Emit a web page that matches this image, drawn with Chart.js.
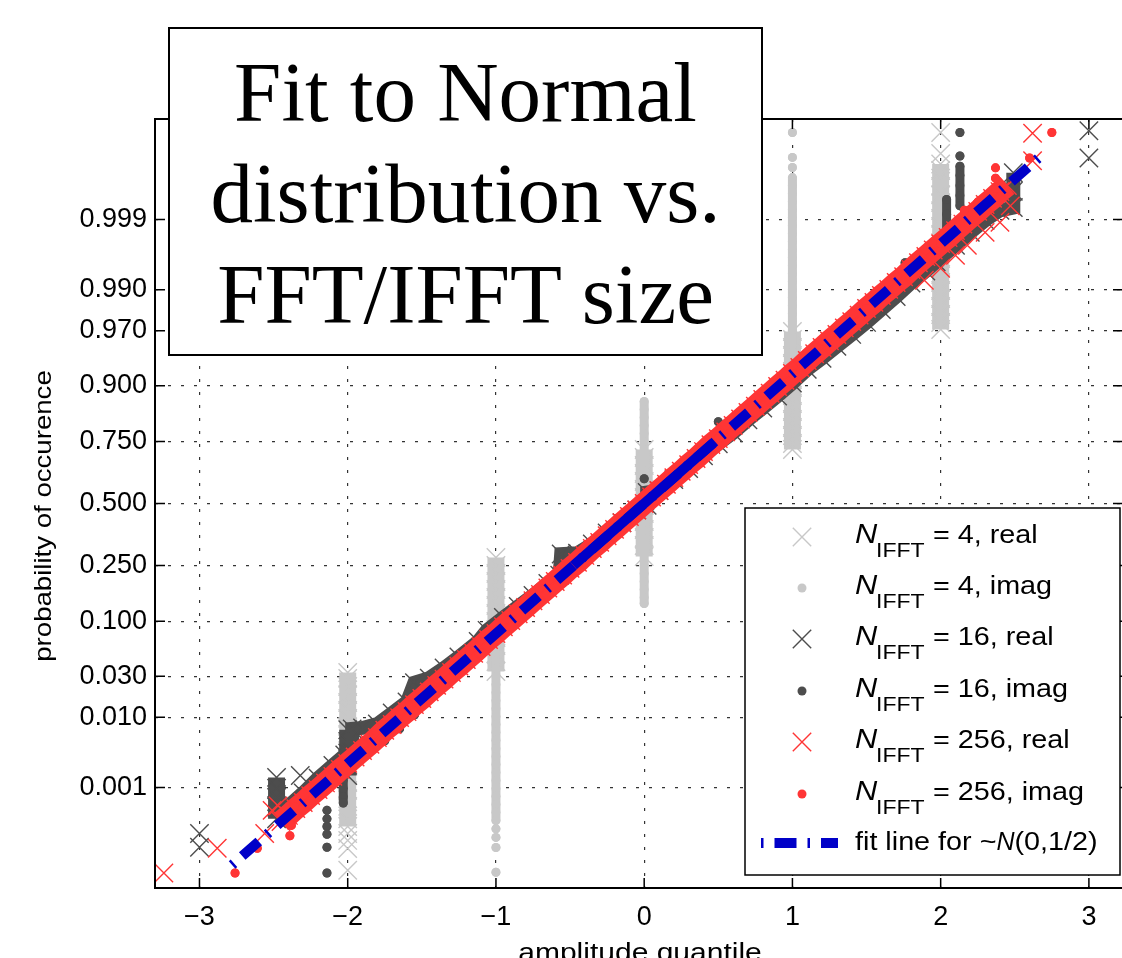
<!DOCTYPE html>
<html lang="en">
<head>
    <meta charset="UTF-8">
    <title>Fit to Normal distribution vs. FFT/IFFT size</title>
    <script src="https://cdn.jsdelivr.net/npm/chart.js"></script>
    <style>
        html, body { margin: 0; padding: 0; background: #fff; overflow: hidden; }
        #wrap { position: relative; width: 1122px; height: 958px; overflow: hidden; }
        #plot { position: absolute; left: 0; top: 0; }
        #title-box {
            position: absolute; left: 168px; top: 27px; width: 595px; height: 329px;
            box-sizing: border-box; border: 2px solid #000; background: #fff;
            font-family: "Liberation Serif", "Times New Roman", serif;
            font-size: 85px; line-height: 101px; text-align: center; padding-top: 13px; color: #000;
        }
    </style>
</head>
<body>
    <div id="wrap">
        <canvas id="plot" width="1140" height="958"></canvas>
        <div id="title-box">Fit to Normal<br>distribution vs.<br>FFT/IFFT size</div>
    </div>

    <script>
        // axis ticks
        const xTicks = [-3, -2, -1, 0, 1, 2, 3];
        const yTickP = [0.001, 0.010, 0.030, 0.100, 0.250, 0.500, 0.750, 0.900, 0.970, 0.990, 0.999];

        // N_IFFT = 4, real : [amplitude, [probabilities]] per connected column
        const n4RealCols = [
            [-2, [0.033, 0.0285, 0.0232, 0.0188, 0.0152, 0.0122, 0.0097, 0.0076, 0.006, 0.0046, 0.0036, 0.00276, 0.0021, 0.0016, 0.0012, 0.0009, 0.00066, 0.00049, 0.0003, 0.00022]],
            [-2, [0.000165]], [-2, [0.000123]], [-2, [0.000087]], [-2, [0.000033]],
            [-1, [0.2783, 0.2499, 0.2231, 0.198, 0.1747, 0.1532, 0.1335, 0.1156, 0.0996, 0.0852, 0.0724, 0.0612, 0.0513, 0.0428, 0.0338]],
            [0, [0.7217, 0.6918, 0.6602, 0.6278, 0.5945, 0.5605, 0.5261, 0.4913, 0.4566, 0.4223, 0.3886, 0.3557, 0.3238, 0.2821]],
            [1, [0.9694, 0.9629, 0.9552, 0.9463, 0.9361, 0.9245, 0.9114, 0.8966, 0.88, 0.8617, 0.8416, 0.8196, 0.7959, 0.7704, 0.7431, 0.7217]],
            [2, [0.999973]], [2, [0.99993]],
            [2, [0.99989, 0.999855, 0.9998, 0.99972, 0.99961, 0.99947, 0.99928, 0.99904, 0.99871, 0.99829, 0.99774, 0.99705, 0.99616, 0.99505, 0.99365, 0.99191, 0.98978, 0.98716, 0.98398, 0.98016, 0.97558, 0.97082]]
        ];

        // N_IFFT = 4, imag
        const n4ImagCols = [
            [-1, [0.1178, 0.1015, 0.0869, 0.0739, 0.0625, 0.0525, 0.0438, 0.0363, 0.0299, 0.0244, 0.0198, 0.016, 0.0128, 0.0102, 0.0081, 0.0064, 0.005, 0.0038, 0.00295, 0.00226, 0.00171, 0.00129, 0.00096, 0.00072, 0.00053, 0.00039, 0.00028]],
            [-1, [0.0002]], [-1, [0.00014]], [-1, [0.000091]], [-1, [0.00003]],
            [0, [0.8665, 0.8468, 0.8253, 0.802, 0.7769, 0.7501, 0.64, 0.513, 0.3844, 0.2499, 0.2231, 0.198, 0.1747, 0.1532, 0.1383]],
            [1, [0.999973]], [1, [0.999917]], [1, [0.999872]],
            [1, [0.999805, 0.99973, 0.99963, 0.99949, 0.99931, 0.99907, 0.99876, 0.99835, 0.99782, 0.99715, 0.99628, 0.9952, 0.99384, 0.99215, 0.99007, 0.98752, 0.98439, 0.98063, 0.97614, 0.9701, 0.9572, 0.9402, 0.9182, 0.8906]]
        ];

        // N_IFFT = 16, real : sorted band [amplitude, probability] plus columns and strays
        const n16RealBand = [
            [-2.40, 0.0005], [-2.30, 0.00082], [-2.20, 0.0014], [-2.10, 0.00219], [-2.02, 0.0031],
            [-1.97, 0.0035], [-1.97, 0.0071], [-1.90, 0.0073], [-1.80, 0.0082], [-1.70, 0.0113],
            [-1.60, 0.0154], [-1.55, 0.0256], [-1.45, 0.0287], [-1.35, 0.0367], [-1.25, 0.0475],
            [-1.12, 0.0668], [-1.06, 0.0838], [-0.95, 0.1075], [-0.85, 0.1314], [-0.75, 0.1587],
            [-0.65, 0.1922], [-0.57, 0.2177], [-0.56, 0.2912], [-0.45, 0.2946], [-0.35, 0.33],
            [-0.25, 0.3745], [-0.15, 0.4168], [-0.05, 0.4721], [0.02, 0.492], [0.02, 0.5478],
            [0.10, 0.5557], [0.20, 0.6026], [0.30, 0.648], [0.40, 0.6985], [0.50, 0.7422],
            [0.60, 0.7794], [0.70, 0.8186], [0.80, 0.8508], [0.90, 0.879], [1.00, 0.9049],
            [1.10, 0.9279], [1.20, 0.9429], [1.30, 0.9564], [1.40, 0.9671], [1.50, 0.9756],
            [1.60, 0.9826], [1.70, 0.9878], [1.80, 0.9918], [1.90, 0.9943], [1.97, 0.99573],
            [2.10, 0.99752], [2.20, 0.99841], [2.30, 0.99897], [2.40, 0.99929], [2.49, 0.99936],
            [2.49, 0.99966], [2.49, 0.99984]
        ];
        const n16RealCols = [
            [-2.48, [0.00144, 0.00097, 0.00069, 0.00048, 0.0003]],
            [-2.0, [0.0069, 0.0048, 0.0033, 0.0022, 0.00154]],
            [-3.0, [0.000165]], [-3.0, [0.000092]], [-2.32, [0.00154]],
            [3.0, [0.999915]], [3.0, [0.999975]]
        ];

        // N_IFFT = 16, imag
        const n16ImagCols = [
            [-2.14, [0.00042]], [-2.14, [0.0003]], [-2.14, [0.00022]], [-2.14, [0.00016]], [-2.14, [0.000092]], [-2.14, [0.000029]],
            [-2.03, [0.0017, 0.0013, 0.00097, 0.00071, 0.00056]],
            [2.04, [0.997, 0.99841, 0.99918, 0.99953]],
            [2.13, [0.999973]], [2.13, [0.999922]],
            [2.13, [0.999879, 0.999822, 0.99973, 0.9996, 0.9994]]
        ];
        const n16ImagLoose = [
            [-1.85, 0.004], [-1.75, 0.0049], [-1.65, 0.0071], [-1.55, 0.0107], [-1.2, 0.045], [-0.8, 0.13],
            [-0.3, 0.336], [0.0, 0.606], [0.3, 0.664], [0.5, 0.813], [0.8, 0.871], [1.2, 0.955], [1.5, 0.983], [1.76, 0.9956]
        ];

        // N_IFFT = 256, real
        const n256RealBand = [
            [-2.45, 0.00027], [-2.40, 0.000344], [-2.35, 0.00045], [-2.30, 0.00057], [-2.25, 0.00074],
            [-2.20, 0.00093], [-2.15, 0.00118], [-2.10, 0.00149], [-2.05, 0.0019], [-2.00, 0.00234],
            [-1.95, 0.0029], [-1.90, 0.0036], [-1.85, 0.0044], [-1.80, 0.00545], [-1.75, 0.0068],
            [-1.70, 0.0081], [-1.65, 0.0099], [-1.60, 0.0118], [-1.55, 0.0143], [-1.50, 0.0169],
            [-1.45, 0.0202], [-1.40, 0.0239], [-1.35, 0.028], [-1.30, 0.033], [-1.25, 0.0384],
            [-1.20, 0.0448], [-1.15, 0.0516], [-1.10, 0.0599], [-1.05, 0.0694], [-1.00, 0.0786],
            [-0.95, 0.090], [-0.90, 0.1015], [-0.85, 0.115], [-0.80, 0.129], [-0.75, 0.145],
            [-0.70, 0.161], [-0.65, 0.179], [-0.60, 0.198], [-0.55, 0.218], [-0.50, 0.240],
            [-0.45, 0.261], [-0.40, 0.286], [-0.35, 0.312], [-0.30, 0.336], [-0.25, 0.363],
            [-0.20, 0.389], [-0.15, 0.417], [-0.10, 0.444], [-0.05, 0.472], [0.00, 0.500],
            [0.05, 0.528], [0.10, 0.556], [0.15, 0.583], [0.20, 0.611], [0.25, 0.637],
            [0.30, 0.664], [0.35, 0.688], [0.40, 0.714], [0.45, 0.739], [0.50, 0.760],
            [0.55, 0.782], [0.60, 0.802], [0.65, 0.821], [0.70, 0.839], [0.75, 0.855],
            [0.80, 0.871], [0.85, 0.885], [0.90, 0.8985], [0.95, 0.910], [1.00, 0.9214],
            [1.05, 0.9306], [1.10, 0.9401], [1.15, 0.9484], [1.20, 0.9552], [1.25, 0.9616],
            [1.30, 0.967], [1.35, 0.972], [1.40, 0.9761], [1.45, 0.9798], [1.50, 0.9831],
            [1.55, 0.9857], [1.60, 0.9882], [1.65, 0.9901], [1.70, 0.9919], [1.75, 0.9932],
            [1.80, 0.99455], [1.85, 0.9956], [1.90, 0.9964], [1.95, 0.9971], [2.00, 0.99766],
            [2.05, 0.9981], [2.10, 0.99851], [2.15, 0.99882], [2.20, 0.99907], [2.25, 0.99926],
            [2.30, 0.99943], [2.35, 0.99955], [2.40, 0.999656], [2.45, 0.99973]
        ];
        const n256RealLoose = [
            [-3.24, 0.000029], [-2.88, 0.000088], [-2.56, 0.000165], [-2.51, 0.00042], [-2.47, 0.0005],
            [1.89, 0.99245], [2.0, 0.99476], [2.10, 0.99653], [2.18, 0.99752], [2.30, 0.99841],
            [2.40, 0.99889], [2.47, 0.9994], [2.62, 0.999904], [2.62, 0.999972]
        ];

        // N_IFFT = 256, imag
        const n256ImagLoose = [
            [-2.76, 0.000029], [-2.61, 0.000088], [-2.39, 0.00015], [-2.38, 0.00023], [-2.37, 0.00034], [-2.36, 0.00048],
            [-1.5, 0.017], [-1.0, 0.079], [-0.5, 0.24], [0, 0.5], [0.5, 0.76], [1.0, 0.921], [1.5, 0.983], [2.0, 0.9977],
            [2.16, 0.99929], [2.25, 0.99948], [2.37, 0.9997], [2.37, 0.9998], [2.37, 0.99987], [2.6, 0.999915], [2.75, 0.999973]
        ];

        // fit line for ~N(0,1/2): full extent and the quartile part
        const fitX = [-2.78, 2.66];
        const fitP = [0.000042, 0.999915];
        const quartX = [-0.477, 0.477];
        const quartP = [0.25, 0.75];

        const legendLabels = ['= 4, real', '= 4, imag', '= 16, real', '= 16, imag', '= 256, real', '= 256, imag'];

        const LIGHT = '#c8c8c8';
        const DARK = '#4d4d4d';
        const RED = '#ff3535';
        const BLUE = '#0000c8';
        const SANS = '"Liberation Sans", Arial, sans-serif';

        // inverse normal cdf (Acklam), used for the probability axis
        function probit(p) {
            const a = [-39.69683028665376, 220.9460984245205, -275.9285104469687, 138.3577518672690, -30.66479806614716, 2.506628277459239];
            const b = [-54.47609879822406, 161.5858368580409, -155.6989798598866, 66.80131188771972, -13.28068155288572];
            const c = [-0.007784894002430293, -0.3223964580411365, -2.400758277161838, -2.549732539343734, 4.374664141464968, 2.938163982698783];
            const d = [0.007784695709041462, 0.3224671290700398, 2.445134137142996, 3.754408661907416];
            const pl = 0.02425;
            let q, r;
            if (p < pl) {
                q = Math.sqrt(-2 * Math.log(p));
                return (((((c[0] * q + c[1]) * q + c[2]) * q + c[3]) * q + c[4]) * q + c[5]) / ((((d[0] * q + d[1]) * q + d[2]) * q + d[3]) * q + 1);
            }
            if (p > 1 - pl) {
                q = Math.sqrt(-2 * Math.log(1 - p));
                return -(((((c[0] * q + c[1]) * q + c[2]) * q + c[3]) * q + c[4]) * q + c[5]) / ((((d[0] * q + d[1]) * q + d[2]) * q + d[3]) * q + 1);
            }
            q = p - 0.5;
            r = q * q;
            return (((((a[0] * r + a[1]) * r + a[2]) * r + a[3]) * r + a[4]) * r + a[5]) * q / (((((b[0] * r + b[1]) * r + b[2]) * r + b[3]) * r + b[4]) * r + 1);
        }

        function fromCols(cols) {
            const pts = [];
            cols.forEach(([x, ps]) => {
                ps.forEach(p => pts.push({ x: x, y: probit(p) }));
                pts.push({ x: null, y: null });
            });
            return pts;
        }

        function fromPairs(pairs, joined) {
            const pts = [];
            pairs.forEach(([x, p]) => {
                pts.push({ x: x, y: probit(p) });
                if (!joined) pts.push({ x: null, y: null });
            });
            return pts;
        }

        function crossSet(data, color, order, width) {
            return {
                data: data, order: order, showLine: true, spanGaps: false,
                borderColor: color, borderWidth: width, borderCapStyle: 'butt',
                pointStyle: 'crossRot', pointRadius: 13, pointBorderWidth: 1.4,
                pointBorderColor: color, pointBackgroundColor: color
            };
        }

        function dotSet(data, color, order) {
            return {
                data: data, order: order, showLine: true, spanGaps: false,
                borderColor: color, borderWidth: 9, borderCapStyle: 'round',
                pointStyle: 'circle', pointRadius: 4.5, pointBorderWidth: 0,
                pointBackgroundColor: color, pointBorderColor: color
            };
        }

        function lineSet(xs, ps, dash) {
            return {
                data: xs.map((x, i) => ({ x: x, y: probit(ps[i]) })),
                order: 0, showLine: true, borderColor: BLUE, borderWidth: 10,
                borderCapStyle: 'butt', borderDash: dash, pointRadius: 0
            };
        }

        const datasets = [
            crossSet(fromCols(n4RealCols), LIGHT, 8, 17),
            dotSet(fromCols(n4ImagCols), LIGHT, 7),
            crossSet(fromCols(n16RealCols), DARK, 6, 17),
            crossSet(fromPairs(n16RealBand, true), DARK, 5, 14),
            dotSet(fromCols(n16ImagCols).concat(fromPairs(n16ImagLoose, false)), DARK, 4),
            crossSet(fromPairs(n256RealLoose, false), RED, 3, 1),
            crossSet(fromPairs(n256RealBand, true), RED, 2, 22),
            dotSet(fromPairs(n256ImagLoose, false), RED, 1),
            lineSet(fitX, fitP, [2.5, 11, 22, 11]),
            lineSet(quartX, quartP, [])
        ];

        function stretchText(ctx, str, x, y, font, sx) {
            ctx.save();
            ctx.font = font;
            ctx.translate(x, y);
            ctx.scale(sx, 1);
            ctx.fillText(str, 0, 0);
            const w = ctx.measureText(str).width * sx;
            ctx.restore();
            return w;
        }

        function drawMarker(ctx, kind, color, x, y) {
            ctx.save();
            if (kind === 'x') {
                ctx.strokeStyle = color;
                ctx.lineWidth = 1.4;
                ctx.beginPath();
                ctx.moveTo(x - 9.2, y - 9.2); ctx.lineTo(x + 9.2, y + 9.2);
                ctx.moveTo(x + 9.2, y - 9.2); ctx.lineTo(x - 9.2, y + 9.2);
                ctx.stroke();
            } else {
                ctx.fillStyle = color;
                ctx.beginPath();
                ctx.arc(x, y, 4.5, 0, Math.PI * 2);
                ctx.fill();
            }
            ctx.restore();
        }

        const framePlugin = {
            id: 'frame',
            afterDraw(chart) {
                const ctx = chart.ctx;
                const a = chart.chartArea;
                const xs = chart.scales.x;
                const ys = chart.scales.y;
                ctx.save();

                // box and inward tick marks
                ctx.strokeStyle = '#000';
                ctx.lineWidth = 2;
                ctx.strokeRect(a.left, a.top, a.right - a.left, a.bottom - a.top);
                ctx.lineWidth = 1.5;
                ctx.beginPath();
                xs.ticks.forEach(t => {
                    const px = xs.getPixelForValue(t.value);
                    ctx.moveTo(px, a.bottom); ctx.lineTo(px, a.bottom - 10);
                    ctx.moveTo(px, a.top); ctx.lineTo(px, a.top + 10);
                });
                ys.ticks.forEach(t => {
                    const py = ys.getPixelForValue(t.value);
                    ctx.moveTo(a.left, py); ctx.lineTo(a.left + 10, py);
                    ctx.moveTo(a.right, py); ctx.lineTo(a.right - 10, py);
                });
                ctx.stroke();

                // axis titles
                ctx.fillStyle = '#000';
                ctx.textBaseline = 'alphabetic';
                ctx.textAlign = 'center';
                stretchText(ctx, 'amplitude quantile', 640, 961, '25px ' + SANS, 1.2);
                ctx.save();
                ctx.translate(51, 516);
                ctx.rotate(-Math.PI / 2);
                stretchText(ctx, 'probability of occurence', 0, 0, '24px ' + SANS, 1.15);
                ctx.restore();

                // legend
                ctx.fillStyle = '#fff';
                ctx.fillRect(745, 508, 375, 367);
                ctx.strokeStyle = '#000';
                ctx.lineWidth = 1.5;
                ctx.strokeRect(745, 508, 375, 367);

                const kinds = ['x', 'dot', 'x', 'dot', 'x', 'dot'];
                const colors = [LIGHT, LIGHT, DARK, DARK, RED, RED];
                const baselines = [543, 594, 645, 697, 748, 800];
                ctx.textAlign = 'left';
                legendLabels.forEach((label, i) => {
                    const b = baselines[i];
                    drawMarker(ctx, kinds[i], colors[i], 802, b - 6);
                    ctx.fillStyle = '#000';
                    stretchText(ctx, 'N', 855, b, 'italic 28px ' + SANS, 1.1);
                    stretchText(ctx, 'IFFT', 876, b + 14, '20px ' + SANS, 1.15);
                    stretchText(ctx, label, 933, b, '25px ' + SANS, 1.15);
                });

                ctx.strokeStyle = BLUE;
                ctx.lineWidth = 10;
                ctx.setLineDash([2.5, 11, 22, 11]);
                ctx.beginPath();
                ctx.moveTo(761, 843);
                ctx.lineTo(838, 843);
                ctx.stroke();
                ctx.setLineDash([]);

                ctx.fillStyle = '#000';
                let tx = 855;
                tx += stretchText(ctx, 'fit line for ~', tx, 850, '25px ' + SANS, 1.15);
                tx += stretchText(ctx, 'N', tx, 850, 'italic 25px ' + SANS, 1.0);
                stretchText(ctx, '(0,1/2)', tx, 850, '25px ' + SANS, 1.15);

                ctx.restore();
            }
        };

        new Chart(document.getElementById('plot'), {
            type: 'scatter',
            data: { datasets: datasets },
            options: {
                responsive: false,
                animation: false,
                events: [],
                layout: { padding: { top: 119, right: 17, left: 0, bottom: 0 } },
                plugins: {
                    legend: { display: false },
                    tooltip: { enabled: false }
                },
                scales: {
                    x: {
                        type: 'linear',
                        min: -3.3,
                        max: 3.23,
                        afterBuildTicks: s => { s.ticks = xTicks.map(v => ({ value: v })); },
                        afterFit: s => { s.height = 70; },
                        grid: { color: '#333', lineWidth: 1.2, drawTicks: false },
                        border: { display: false, dash: [3, 10] },
                        ticks: {
                            autoSkip: false,
                            maxRotation: 0,
                            padding: 13,
                            color: '#000',
                            font: { family: SANS, size: 27 },
                            callback: v => (v < 0 ? '\u2212' + Math.abs(v) : String(v))
                        }
                    },
                    y: {
                        type: 'linear',
                        min: -4.184,
                        max: 4.184,
                        afterBuildTicks: s => { s.ticks = yTickP.map(p => ({ value: probit(p) })); },
                        afterFit: s => { s.width = 155; },
                        grid: { color: '#333', lineWidth: 1.2, drawTicks: false },
                        border: { display: false, dash: [3, 10] },
                        ticks: {
                            autoSkip: false,
                            padding: 8,
                            color: '#000',
                            font: { family: SANS, size: 27 },
                            callback: (v, i) => yTickP[i].toFixed(3)
                        }
                    }
                }
            },
            plugins: [framePlugin]
        });
    </script>
</body>
</html>
